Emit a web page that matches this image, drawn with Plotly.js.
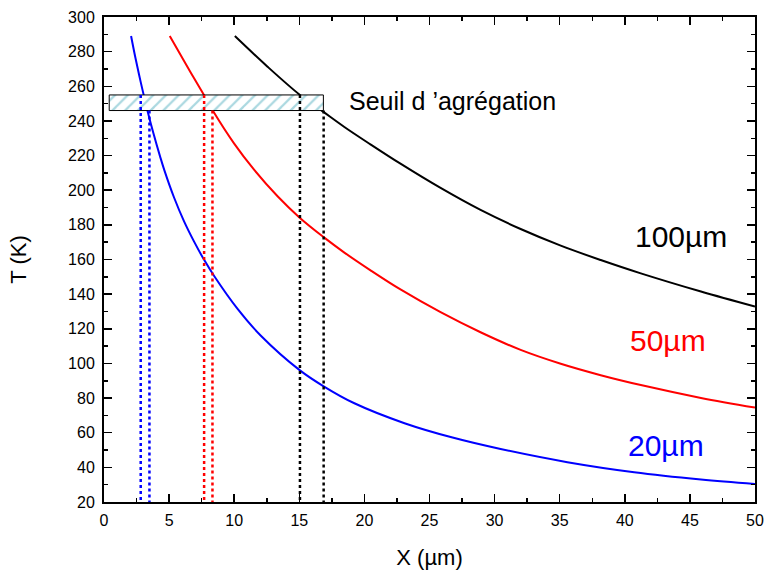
<!DOCTYPE html>
<html>
<head>
<meta charset="utf-8">
<script src="https://cdn.plot.ly/plotly-3.0.1.min.js"></script>
<style>html,body{margin:0;padding:0;background:#fff;}#chart{width:766px;height:570px;}</style>
</head>
<body>
<div id="chart"></div>
<script>
// Curve data
const x20 = [2.08, 2.38, 2.69, 2.97, 3.33, 3.79, 4.31, 4.62, 5.38, 6.15, 6.92, 7.69, 8.46, 10.26, 12.05, 15.05, 16.87, 19.23, 23.08, 26.77, 30.46, 35.59, 40.72, 45.85, 50];
const t20 = [289, 277.6, 266.8, 257.5, 246.2, 233, 219.4, 211.9, 195.8, 182, 170.3, 159.8, 150.5, 131.5, 116, 96, 86.8, 77, 65.5, 57.2, 50.6, 43, 37.2, 33, 30.4];

const x50 = [5.05, 6.15, 6.92, 7.69, 8.33, 10, 11.54, 13.33, 15.05, 16.87, 18.46, 20.5, 22.77, 25.85, 28.92, 32, 35.08, 38.15, 41.23, 45.85, 50];
const t50 = [289, 274.6, 264.6, 254.8, 246.3, 226.9, 211.7, 196.5, 184, 172.9, 164, 153.6, 142.7, 129.6, 118, 107.8, 99.8, 93.2, 87.5, 80.1, 74.5];

const x100 = [10.05, 12.56, 15.05, 16.8, 18.46, 20.46, 22.77, 25.85, 28.92, 32, 35.08, 38.15, 41.23, 45.85, 50];
const t100 = [289, 271.3, 255, 245.5, 236.5, 226.5, 215.3, 201.3, 188.6, 177.6, 168, 159.7, 152, 141.5, 132.8];

// Aggregation threshold band
const bandX = [0.4, 16.85];
const bandT = [246, 255];

// Dotted drop lines: x positions, and their top T values
const dropX20 = [2.82, 3.49];
const dropX50 = [7.69, 8.33];
const dropX100 = [15.05, 16.87];
const dropTop = [255, 246];
const dropBottom = 20;

// Labels
const labelText = ["100µm", "50µm", "20µm"];
const labelX = [44.3, 43.3, 43.2];
const labelT = [173.5, 113, 52.5];
const labelColor = ["#000000", "#ff0000", "#0000ff"];
const bandLabel = "Seuil d ’agrégation";
const bandLabelX = 18.7;
const bandLabelT = 251.6;

const font = "Arial, 'Liberation Sans', sans-serif";

const traces = [
  {x: x100, y: t100, mode: 'lines', line: {color: '#000000', width: 2, shape: 'spline', smoothing: 1}},
  {x: x50, y: t50, mode: 'lines', line: {color: '#ff0000', width: 2, shape: 'spline', smoothing: 1}},
  {x: x20, y: t20, mode: 'lines', line: {color: '#0000ff', width: 2, shape: 'spline', smoothing: 1}},
  {
    x: [bandX[0], bandX[1], bandX[1], bandX[0], bandX[0]],
    y: [bandT[0], bandT[0], bandT[1], bandT[1], bandT[0]],
    mode: 'lines', fill: 'toself', fillcolor: '#ffffff',
    fillpattern: {shape: '/', fgcolor: '#aad8e0', bgcolor: '#ffffff', size: 9, solidity: 0.25},
    line: {color: '#000000', width: 1}
  }
];

function drops(xs, color) {
  xs.forEach((xv, i) => {
    traces.push({x: [xv, xv], y: [dropTop[i], dropBottom], mode: 'lines',
      line: {color: color, width: 2.5, dash: 'dot'}});
  });
}
drops(dropX20, '#0000ff');
drops(dropX50, '#ff0000');
drops(dropX100, '#000000');

const annotations = labelText.map((t, i) => ({
  x: labelX[i], y: labelT[i], xref: 'x', yref: 'y', text: t, showarrow: false,
  font: {family: font, size: 30, color: labelColor[i]}, xanchor: 'center', yanchor: 'middle'
}));
annotations.push({x: bandLabelX, y: bandLabelT, xref: 'x', yref: 'y', text: bandLabel, showarrow: false,
  font: {family: font, size: 25, color: '#000000'}, xanchor: 'left', yanchor: 'middle'});

const axisCommon = {
  showline: true, linecolor: '#000000', linewidth: 2, mirror: 'ticks',
  ticks: 'inside', ticklen: 8, tickwidth: 1.5, tickcolor: '#000000',
  showgrid: false, zeroline: false,
  tickfont: {family: font, size: 16, color: '#000000'}
};

const layout = {
  width: 766, height: 570,
  margin: {l: 104, r: 11, t: 17, b: 68},
  paper_bgcolor: '#ffffff', plot_bgcolor: '#ffffff',
  showlegend: false, hovermode: false,
  xaxis: Object.assign({}, axisCommon, {
    range: [0, 50], dtick: 5, tick0: 0, ticklabelstandoff: 3,
    minor: {dtick: 2.5, ticks: 'inside', ticklen: 4, tickwidth: 1.5, tickcolor: '#000000', showgrid: false},
    title: {text: 'X (µm)', font: {family: font, size: 22, color: '#000000'}, standoff: 21}
  }),
  yaxis: Object.assign({}, axisCommon, {
    range: [20, 300], dtick: 20, tick0: 20, ticklabelstandoff: 4,
    minor: {dtick: 10, ticks: 'inside', ticklen: 4, tickwidth: 1.5, tickcolor: '#000000', showgrid: false},
    title: {text: 'T (K)', font: {family: font, size: 22, color: '#000000'}, standoff: 35}
  }),
  annotations: annotations
};

Plotly.newPlot('chart', traces, layout, {displayModeBar: false, staticPlot: true});
</script>
</body>
</html>
